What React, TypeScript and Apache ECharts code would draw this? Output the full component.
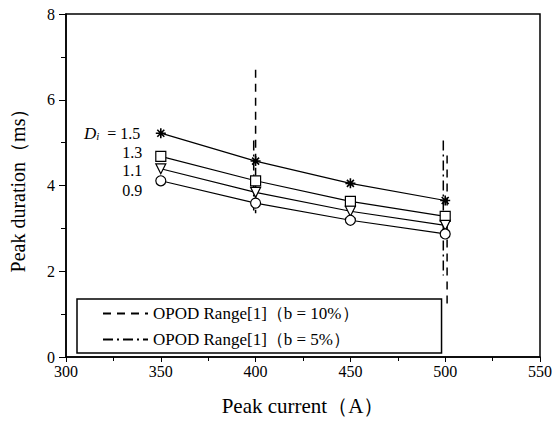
import React, { useEffect, useRef } from "react";
import * as echarts from "echarts";

const currents = [350, 400, 450, 500];
const dur15 = [5.22, 4.57, 4.05, 3.65];
const dur13 = [4.68, 4.11, 3.63, 3.28];
const dur11 = [4.39, 3.84, 3.4, 3.07];
const dur09 = [4.11, 3.59, 3.19, 2.87];
const seriesLabels = ["{it|D}{sub|i} = 1.5", "1.3", "1.1", "0.9"];
const opod10 = [
  [[400, 6.7], [400, 3.35]],
  [[501, 4.7], [501, 1.25]],
];
const opod5 = [
  [[399, 5.05], [399, 3.35]],
  [[499, 5.05], [499, 1.9]],
];
const legendNames = ["OPOD Range[1]（b = 10%）", "OPOD Range[1]（b = 5%）"];

const FONT = "'Liberation Serif', 'DejaVu Serif', serif";
const STAR = "path://M0 5 L10 5 M5 0 L5 10 M1.5 1.5 L8.5 8.5 M8.5 1.5 L1.5 8.5";

export default function App() {
  const ref = useRef<HTMLDivElement>(null);
  useEffect(() => {
    if (!ref.current) return;
    const chart = echarts.init(ref.current, null, { renderer: "svg" });
    const mk = (vals: number[]) => currents.map((c, i) => [c, vals[i]]);
    const dataSeries = [
      { d: dur15, sym: STAR, rot: 0, fill: "none", off: [0, 0] },
      { d: dur13, sym: "rect", rot: 0, fill: "#fff", off: [0, -4] },
      { d: dur11, sym: "triangle", rot: 180, fill: "#fff", off: [0, 2] },
      { d: dur09, sym: "circle", rot: 0, fill: "#fff", off: [0, 10] },
    ].map((s, k) => ({
      type: "line",
      data: mk(s.d).map((p, i) =>
        i === 0
          ? {
              value: p,
              label: {
                show: true,
                position: "left",
                distance: 13,
                offset: s.off,
                formatter: seriesLabels[k],
                color: "#000",
                fontFamily: FONT,
                fontSize: 16,
                lineHeight: 16,
                rich: {
                  it: { fontStyle: "italic", fontFamily: FONT, fontSize: 17, color: "#000", lineHeight: 16 },
                  sub: { fontStyle: "italic", fontFamily: FONT, fontSize: 11, color: "#000", verticalAlign: "bottom", padding: [7, 4, 0, 0], lineHeight: 12 },
                },
              },
            }
          : p
      ),
      symbol: s.sym,
      symbolSize: 10,
      symbolRotate: s.rot,
      showSymbol: true,
      lineStyle: { color: "#000", width: 1.2 },
      itemStyle: { color: s.fill, borderColor: "#000", borderWidth: k === 0 ? 1.6 : 1.2 },
      z: 3,
    }));
    const vline = (pts: number[][], name: string, type: any) => ({
      type: "line",
      name,
      data: pts,
      symbol: "none",
      lineStyle: { color: "#000", width: 1.5, type },
      itemStyle: { color: "#000" },
      z: 2,
    });
    const option: any = {
      animation: false,
      backgroundColor: "#fff",
      grid: { left: 65, right: 13, top: 14, bottom: 59, show: true, borderColor: "#000", borderWidth: 1.5, backgroundColor: "transparent" },
      xAxis: {
        type: "value",
        min: 300,
        max: 550,
        interval: 50,
        name: "Peak current（A）",
        nameLocation: "middle",
        nameGap: 38,
        nameTextStyle: { fontFamily: FONT, fontSize: 21, color: "#000" },
        axisLine: { lineStyle: { color: "#000", width: 1.5 } },
        axisTick: { show: true, length: 5, lineStyle: { color: "#000" } },
        minorTick: { show: true, splitNumber: 2, length: 4, lineStyle: { color: "#000" } },
        splitLine: { show: false },
        axisLabel: { fontFamily: FONT, fontSize: 16, color: "#000", margin: 6 },
      },
      yAxis: {
        type: "value",
        min: 0,
        max: 8,
        interval: 2,
        name: "Peak duration（ms）",
        nameLocation: "middle",
        nameGap: 38,
        nameRotate: 90,
        nameTextStyle: { fontFamily: FONT, fontSize: 20, color: "#000" },
        axisLine: { lineStyle: { color: "#000", width: 1.5 } },
        axisTick: { show: true, length: 7, lineStyle: { color: "#000" } },
        minorTick: { show: true, splitNumber: 2, length: 5, lineStyle: { color: "#000" } },
        splitLine: { show: false },
        axisLabel: { fontFamily: FONT, fontSize: 16, color: "#000", margin: 11 },
      },
      legend: {
        data: legendNames,
        orient: "vertical",
        left: 77,
        top: 299,
        itemWidth: 45,
        itemHeight: 14,
        itemGap: 9,
        padding: [6, 83, 5, 25],
        borderColor: "#000",
        borderWidth: 1.5,
        backgroundColor: "#fff",
        itemStyle: { opacity: 0 },
        textStyle: { fontFamily: FONT, fontSize: 17, color: "#000" },
        selectedMode: false,
      },
      series: [
        ...dataSeries,
        vline(opod10[0], legendNames[0], [8, 6]),
        vline(opod10[1], legendNames[0], [8, 6]),
        vline(opod5[0], legendNames[1], [10, 4, 2, 4]),
        vline(opod5[1], legendNames[1], [10, 4, 2, 4]),
      ],
    };
    chart.setOption(option);
    return () => chart.dispose();
  }, []);
  return <div ref={ref} style={{ width: 555, height: 421, position: "absolute", left: 0, top: 0, background: "#fff" }} />;
}
